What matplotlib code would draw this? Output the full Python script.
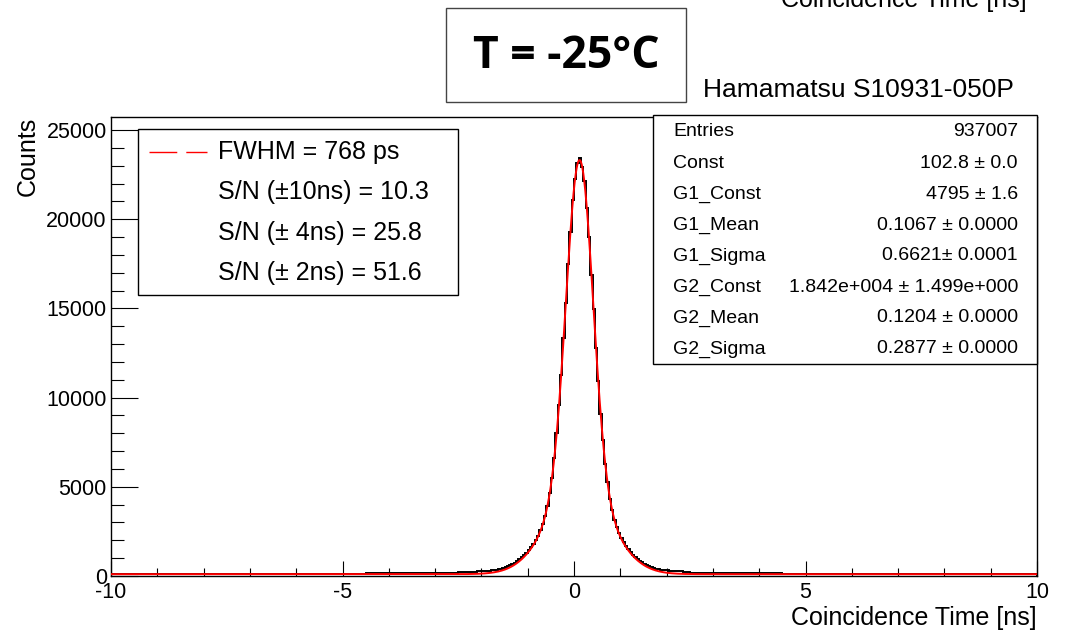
import numpy as np
import matplotlib.pyplot as plt
from matplotlib.patches import Rectangle
from matplotlib.lines import Line2D
from matplotlib.ticker import MultipleLocator

plt.rcParams['font.family'] = ['Liberation Sans', 'DejaVu Sans']
plt.rcParams['axes.unicode_minus'] = False

W, H = 1067, 632

# fit: constant + two gaussians
const = 102.8
g1_const, g1_mean, g1_sigma = 4795, 0.1067, 0.6621
g2_const, g2_mean, g2_sigma = 1.842e4, 0.1204, 0.2877

# histogram counts: 0.5 ns bins in the tails, 0.05 ns bins in [-2.5, 2.5]
tail_left = [97, 104, 99, 102, 96, 103, 100, 98, 105, 101, 125, 145, 155, 160, 175]
core = [240, 235, 245, 240, 245, 240, 250, 245, 255, 260,
        265, 275, 285, 300, 310, 330, 350, 375, 405, 445,
        490, 540, 600, 670, 745, 830, 930, 1040, 1160, 1300,
        1460, 1630, 1810, 2030, 2270, 2570, 2920, 3360, 3930, 4640,
        5510, 6600, 7990, 9580, 11290, 13350, 15300, 17480, 19300, 21080,
        22250, 23150, 23450, 22900, 22120, 20640, 19010, 16900, 14950, 12780,
        10930, 9080, 7620, 6260, 5250, 4340, 3700, 3160, 2730, 2400,
        2120, 1880, 1680, 1500, 1340, 1200, 1070, 960, 860, 770,
        690, 620, 560, 505, 460, 420, 390, 360, 340, 325,
        310, 295, 285, 275, 268, 262, 255, 250, 245, 240]
tail_right = [185, 170, 160, 150, 130, 105, 102, 97, 104, 99, 101, 96, 103, 100, 98]

legend_lines = ['FWHM = 768 ps', 'S/N (\u00b110ns) = 10.3',
                'S/N (\u00b1 4ns) = 25.8', 'S/N (\u00b1 2ns) = 51.6']
stat_names = ['Entries', 'Const', 'G1_Const', 'G1_Mean', 'G1_Sigma',
              'G2_Const', 'G2_Mean', 'G2_Sigma']
stat_values = ['937007', '102.8 \u00b1 0.0', '4795 \u00b1 1.6', '0.1067 \u00b1 0.0000',
               '0.6621\u00b1 0.0001', '1.842e+004 \u00b1 1.499e+000',
               '0.1204 \u00b1 0.0000', '0.2877 \u00b1 0.0000']

counts = np.array(tail_left + core + tail_right, dtype=float)
edges = np.concatenate([np.linspace(-10, -2.5, 16)[:-1],
                        np.linspace(-2.5, 2.5, 101)[:-1],
                        np.linspace(2.5, 10, 16)])

t = np.linspace(-10, 10, 4001)
fit = (const
       + g1_const * np.exp(-0.5 * ((t - g1_mean) / g1_sigma) ** 2)
       + g2_const * np.exp(-0.5 * ((t - g2_mean) / g2_sigma) ** 2))


def fx(px):
    return px / W


def fy(py):
    return 1 - py / H


fig = plt.figure(figsize=(W / 100, H / 100), dpi=100)
ax = fig.add_axes([fx(111), fy(576), fx(1037) - fx(111), fy(117) - fy(576)])

ax.stairs(counts, edges, color='black', lw=1.4, zorder=2)
ax.plot(t, fit, color='red', lw=1.4, zorder=3)

ax.set_xlim(-10, 10)
ax.set_ylim(0, 25730)
ax.xaxis.set_major_locator(MultipleLocator(5))
ax.xaxis.set_minor_locator(MultipleLocator(1))
ax.yaxis.set_major_locator(MultipleLocator(5000))
ax.yaxis.set_minor_locator(MultipleLocator(1000))
ax.tick_params(which='both', direction='in', labelsize=15.5, width=0.8)
ax.tick_params(axis='x', which='major', length=10.8, pad=4)
ax.tick_params(axis='x', which='minor', length=5.5)
ax.tick_params(axis='y', which='major', length=19.2, pad=3)
ax.tick_params(axis='y', which='minor', length=9.6)
for s in ax.spines.values():
    s.set_linewidth(1.0)

fig.text(fx(1037), fy(618), 'Coincidence Time [ns]', ha='right', va='center', fontsize=18)
fig.text(fx(28), fy(117), 'Counts', ha='center', va='top', rotation=90, fontsize=18)

# legend box
fig.add_artist(Rectangle((fx(138), fy(295)), fx(458) - fx(138), fy(129) - fy(295),
                         transform=fig.transFigure, fc='white', ec='black', lw=1.0))
fig.add_artist(Line2D([fx(149), fx(207)], [fy(152), fy(152)], transform=fig.transFigure,
                      color='red', lw=1.0, dashes=(20, 6.5)))
for i, s in enumerate(legend_lines):
    fig.text(fx(218), fy(152 + 40.3 * i), s, ha='left', va='center', fontsize=18)

# fit statistics box
fig.add_artist(Rectangle((fx(653), fy(364)), fx(1037) - fx(653), fy(115) - fy(364),
                         transform=fig.transFigure, fc='white', ec='black', lw=1.0))
for i, (n, v) in enumerate(zip(stat_names, stat_values)):
    y = fy(132 + 31 * i)
    fig.text(fx(673), y, n, ha='left', va='center', fontsize=14)
    fig.text(fx(1018), y, v, ha='right', va='center', fontsize=14)

# temperature label and sensor name
fig.add_artist(Rectangle((fx(446), fy(102)), fx(686) - fx(446), fy(8) - fy(102),
                         transform=fig.transFigure, fc='white', ec='#444444', lw=1.0))
fig.text(fx(566), fy(57), 'T = -25\u00b0C', ha='center', va='center', fontsize=32,
         fontweight='bold', family=['Open Sans', 'DejaVu Sans'])
fig.text(fx(703), fy(90), 'Hamamatsu S10931-050P', ha='left', va='center', fontsize=19)
fig.text(fx(1027), fy(7), 'Coincidence Time [ns]', ha='right', va='baseline', fontsize=18)

fig.savefig('out.png', dpi=100)
